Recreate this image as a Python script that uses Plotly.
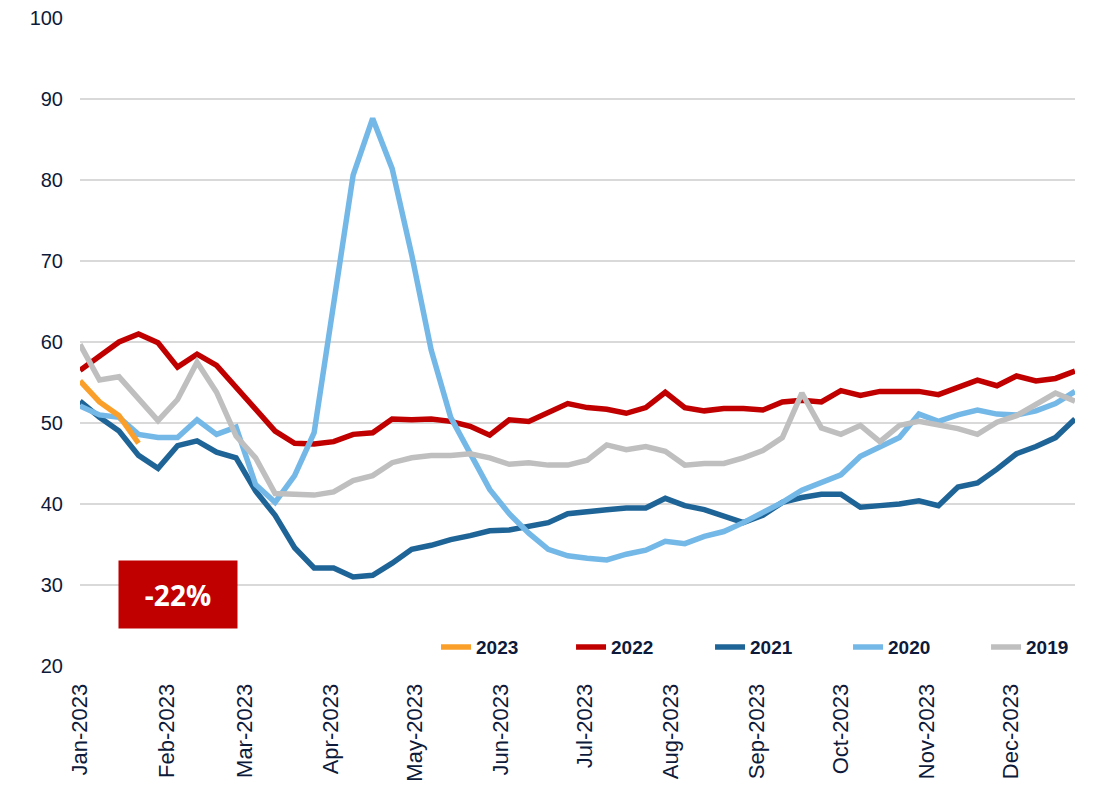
import pandas as pd
import plotly.graph_objects as go

# Weekly index values (week 1 .. week 52)
weeks = pd.date_range("2023-01-01", periods=52, freq="7D")

y2023 = [55.2, 52.6, 50.9, 47.5]

y2022 = [56.5, 58.2, 60.0, 61.0, 59.9, 56.9, 58.5, 57.1, 54.4, 51.5,
         49.0, 47.5, 47.4, 47.7, 48.6, 48.8, 50.5, 50.4, 50.5, 50.2,
         49.6, 48.5, 50.4, 50.2, 51.3, 52.4, 51.9, 51.7, 51.2, 51.9,
         53.8, 51.9, 51.5, 51.8, 51.8, 51.6, 52.6, 52.8, 52.6, 54.0,
         53.4, 53.9, 53.9, 53.9, 53.5, 54.4, 55.3, 54.6, 55.8, 55.2,
         55.5, 56.4]

y2021 = [52.7, 50.7, 49.0, 46.0, 44.4, 47.2, 47.8, 46.4, 45.7, 41.6,
         38.6, 34.6, 32.1, 32.1, 31.0, 31.2, 32.7, 34.4, 34.9, 35.6,
         36.1, 36.7, 36.8, 37.3, 37.7, 38.8, 39.1, 39.3, 39.5, 39.5,
         40.7, 39.8, 39.3, 38.5, 37.7, 38.6, 40.2, 40.8, 41.2, 41.2,
         39.6, 39.8, 40.0, 40.4, 39.8, 42.1, 42.6, 44.3, 46.2, 47.1,
         48.2, 50.5]

y2020 = [52.1, 51.0, 50.7, 48.6, 48.2, 48.2, 50.4, 48.6, 49.5, 42.4,
         40.2, 43.5, 48.8, 64.3, 80.6, 87.6, 81.4, 70.8, 59.0, 50.7,
         46.2, 41.8, 38.8, 36.4, 34.4, 33.6, 33.3, 33.1, 33.8, 34.3,
         35.4, 35.1, 36.0, 36.6, 37.7, 38.9, 40.2, 41.7, 42.6, 43.6,
         45.9, 47.0, 48.2, 51.1, 50.2, 51.0, 51.6, 51.1, 51.0, 51.5,
         52.4, 53.9]

y2019 = [59.7, 55.3, 55.7, 53.1, 50.3, 52.9, 57.5, 53.8, 48.4, 45.7,
         41.3, 41.2, 41.1, 41.5, 42.9, 43.5, 45.1, 45.7, 46.0, 46.0,
         46.2, 45.7, 44.9, 45.1, 44.8, 44.8, 45.4, 47.3, 46.7, 47.1,
         46.5, 44.8, 45.0, 45.0, 45.7, 46.6, 48.2, 53.7, 49.4, 48.6,
         49.7, 47.7, 49.7, 50.2, 49.8, 49.3, 48.6, 50.1, 50.9, 52.3,
         53.7, 52.7]

# (name, values, colour, legend id, legend x position in plot fraction)
series = [
    ("2022", y2022, "#C00000", "legend2", 0.4935),
    ("2021", y2021, "#1F6496", "legend3", 0.6332),
    ("2020", y2020, "#74B8E7", "legend4", 0.7719),
    ("2019", y2019, "#BFBFBF", "legend5", 0.9106),
    ("2023", y2023, "#FAA02A", "legend", 0.3578),
]

annotation_text = "-22%"

TEXT = "#0D1A3A"
LEGEND_FONT = dict(family="Liberation Sans Narrow, Arial Narrow, Liberation Sans",
                   size=19, color=TEXT, weight="bold")

fig = go.Figure()
legends = {}
for name, vals, color, leg, lx in series:
    fig.add_trace(go.Scatter(
        x=weeks[:len(vals)], y=vals, name=name, mode="lines",
        line=dict(color=color, width=5.5), legend=leg,
    ))
    legends[leg] = dict(
        orientation="h", x=lx, xanchor="left", y=0.029, yanchor="middle",
        font=LEGEND_FONT, bgcolor="rgba(0,0,0,0)", borderwidth=0,
    )

fig.add_annotation(
    x="2023-02-05", y=28.8, xref="x", yref="y",
    text=f"<b>{annotation_text}</b>", showarrow=False,
    font=dict(family="Open Sans, Arial", size=28, color="white"),
    bgcolor="#C00000", width=116, height=65, align="center", valign="middle",
)

fig.update_layout(
    width=1109, height=787,
    margin=dict(l=80, r=34, t=18, b=121),
    plot_bgcolor="white", paper_bgcolor="white",
    font=dict(family="Liberation Sans, Arial", size=20, color=TEXT),
    showlegend=True,
    xaxis=dict(
        type="date", range=[weeks[0], weeks[-1]], automargin=False,
        tickformat="%b-%Y", dtick="M1", tick0="2023-01-01",
        tickangle=-90, showgrid=False, zeroline=False, showline=False,
        ticks="outside", ticklen=8, tickcolor="rgba(0,0,0,0)",
        tickfont=dict(size=22, color=TEXT),
    ),
    yaxis=dict(
        range=[20, 100], dtick=10, showgrid=True, gridcolor="#D9D9D9",
        gridwidth=1.5, zeroline=False, showline=False, automargin=False,
        ticks="outside", ticklen=12, tickcolor="rgba(0,0,0,0)",
        tickfont=dict(size=20, color=TEXT),
    ),
    **legends,
)

fig.write_html("out.html", config={"displayModeBar": False},
               post_script="document.body.style.margin='0';")
